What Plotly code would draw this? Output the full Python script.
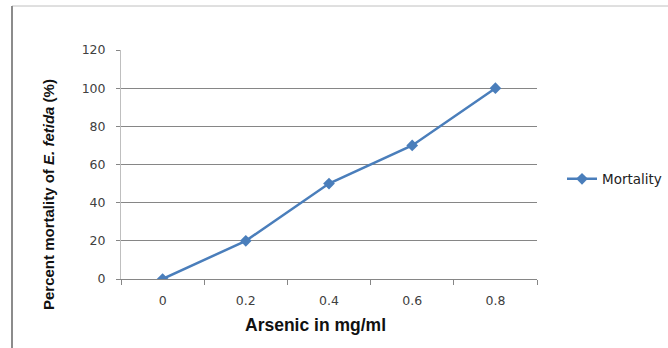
import plotly.graph_objects as go

categories = ["0", "0.2", "0.4", "0.6", "0.8"]
mortality = [0, 20, 50, 70, 100]
series_name = "Mortality"
x_title = "<b>Arsenic in mg/ml</b>"
y_title = "<b>Percent mortality of <i>E. fetida</i> (%)</b>"

W, H = 668, 348
L, R, T, B = 121, 131, 50, 69
pw, ph = W - L - R, H - T - B

def px_to_paper_x(px):
    return (px - L) / pw

def px_to_paper_y(py):
    return (H - B - py) / ph

blue = "#4a7ebb"
tick_font = dict(family="DejaVu Sans, sans-serif", size=12.5, color="#404040")

fig = go.Figure()
fig.add_trace(go.Scatter(
    x=categories, y=mortality, mode="lines+markers", name=series_name,
    line=dict(color=blue, width=2.5),
    marker=dict(symbol="diamond", size=9, color=blue),
))

fig.update_layout(
    width=W, height=H,
    margin=dict(l=L, r=R, t=T, b=B, autoexpand=False),
    paper_bgcolor="white", plot_bgcolor="white",
    font=dict(family="Liberation Sans, Arial, sans-serif", color="#222"),
    showlegend=True,
    legend=dict(x=px_to_paper_x(562), y=px_to_paper_y(179), xanchor="left", yanchor="middle",
                font=dict(family="DejaVu Sans, sans-serif", size=13.5, color="#222"),
                bgcolor="rgba(0,0,0,0)"),
    xaxis=dict(
        type="category", range=[-0.5, 4.5], tickson="boundaries",
        ticks="outside", ticklen=5, tickcolor="#868686", tickwidth=1,
        showline=True, linecolor="#868686", linewidth=1,
        showgrid=False, zeroline=False,
        tickfont=tick_font,
        ticklabelstandoff=10,
    ),
    yaxis=dict(
        range=[0, 120], dtick=20, tick0=0,
        ticks="outside", ticklen=4, tickcolor="#868686",
        showline=True, linecolor="#bfbfbf", linewidth=1,
        showgrid=True, gridcolor="#868686", gridwidth=1,
        zeroline=False,
        tickfont=tick_font,
        ticklabelstandoff=8,
    ),
    annotations=[
        dict(text=x_title, xref="paper", yref="paper",
             x=px_to_paper_x(315), y=px_to_paper_y(325),
             xanchor="center", yanchor="middle", showarrow=False,
             font=dict(family="Liberation Sans, Arial, sans-serif", size=17.5, color="#111")),
        dict(text=y_title, xref="paper", yref="paper",
             x=px_to_paper_x(48), y=px_to_paper_y(195),
             xanchor="center", yanchor="middle", showarrow=False, textangle=-90,
             font=dict(family="Liberation Sans, Arial, sans-serif", size=15, color="#111")),
    ],
    shapes=[
        dict(type="line", xref="paper", yref="paper",
             x0=px_to_paper_x(12), x1=px_to_paper_x(668),
             y0=px_to_paper_y(6), y1=px_to_paper_y(6),
             line=dict(color="#c0c0c0", width=1)),
        dict(type="line", xref="paper", yref="paper",
             x0=px_to_paper_x(12), x1=px_to_paper_x(12),
             y0=px_to_paper_y(6), y1=px_to_paper_y(348),
             line=dict(color="#8c8c8c", width=2)),
    ],
)

fig.write_html("out.html")
